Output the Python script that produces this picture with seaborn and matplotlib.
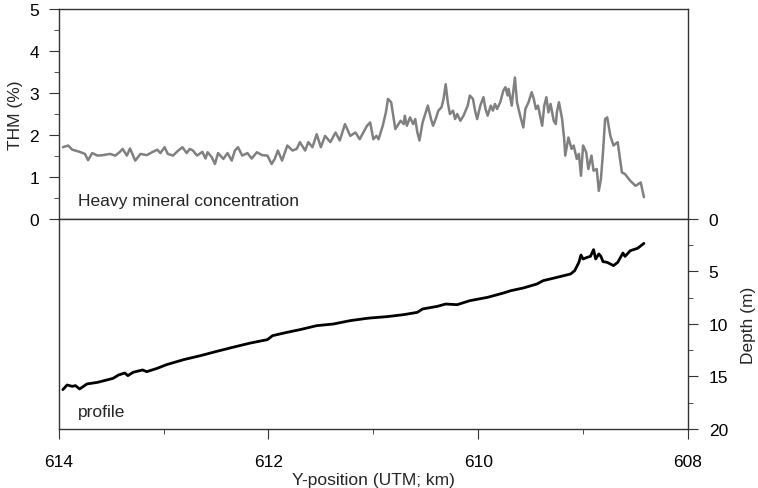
import numpy as np
import pandas as pd
import seaborn as sns
import matplotlib
matplotlib.use("Agg")
import matplotlib.pyplot as plt
from matplotlib.ticker import MultipleLocator

# heavy mineral concentration along the track
thm_y = [613.96, 613.91, 613.87, 613.80, 613.75, 613.72, 613.68, 613.63, 613.58, 613.51,
         613.46, 613.42, 613.39, 613.35, 613.32, 613.27, 613.22, 613.16, 613.11, 613.06,
         613.03, 612.99, 612.96, 612.91, 612.86, 612.82, 612.78, 612.75, 612.72, 612.68,
         612.63, 612.60, 612.58, 612.54, 612.51, 612.48, 612.43, 612.39, 612.35, 612.32,
         612.29, 612.25, 612.20, 612.16, 612.11, 612.06, 612.01, 611.97, 611.94, 611.91,
         611.87, 611.82, 611.77, 611.73, 611.70, 611.65, 611.62, 611.58, 611.54, 611.50,
         611.46, 611.41, 611.36, 611.32, 611.27, 611.22, 611.17, 611.13, 611.06,
         611.03, 611.00, 610.97, 610.95, 610.92, 610.91, 610.88, 610.86, 610.83, 610.81,
         610.79, 610.77, 610.74, 610.71, 610.70, 610.68, 610.65, 610.62, 610.60, 610.58,
         610.56, 610.53, 610.51, 610.49, 610.48, 610.45, 610.43, 610.40, 610.38, 610.35,
         610.33, 610.31, 610.29, 610.27, 610.24, 610.22, 610.20, 610.17, 610.14, 610.12,
         610.10, 610.08, 610.05, 610.03, 610.01, 609.98, 609.95, 609.93, 609.91, 609.88,
         609.86, 609.84, 609.82,
         609.79, 609.76, 609.74, 609.72, 609.71, 609.68, 609.67, 609.65, 609.63, 609.60,
         609.57, 609.55, 609.52, 609.49, 609.47, 609.45, 609.43, 609.41, 609.39, 609.37,
         609.35, 609.33, 609.31, 609.28, 609.26, 609.25, 609.23, 609.20, 609.18, 609.17,
         609.14, 609.11, 609.09, 609.06, 609.04, 609.02, 609.00, 608.97, 608.95, 608.92,
         608.90, 608.87, 608.85, 608.83, 608.81, 608.79, 608.77, 608.74,
         608.71, 608.67, 608.63, 608.60, 608.55, 608.50, 608.45, 608.42]
thm = [1.71, 1.75, 1.65, 1.60, 1.55, 1.40, 1.57, 1.51, 1.52, 1.55,
       1.51, 1.59, 1.67, 1.51, 1.68, 1.39, 1.55, 1.52, 1.59, 1.65,
       1.57, 1.71, 1.55, 1.51, 1.63, 1.71, 1.57, 1.67, 1.63, 1.51,
       1.60, 1.44, 1.59, 1.47, 1.31, 1.57, 1.43, 1.57, 1.39, 1.63,
       1.71, 1.51, 1.57, 1.44, 1.59, 1.52, 1.51, 1.31, 1.43, 1.63,
       1.39, 1.75, 1.63, 1.67, 1.83, 1.63, 1.83, 1.71, 2.02, 1.71,
       1.98, 1.83, 2.06, 1.87, 2.26, 1.98, 2.06, 1.90, 2.22,
       2.30, 1.90, 1.98, 1.90, 2.14, 2.22, 2.54, 2.86, 2.78, 2.46,
       2.14, 2.22, 2.34, 2.26, 2.46, 2.22, 2.42, 2.26, 2.38, 2.06,
       1.87, 2.30, 2.46, 2.62, 2.70, 2.38, 2.22, 2.42, 2.58, 2.66,
       2.86, 3.21, 2.78, 2.50, 2.58, 2.38, 2.50, 2.34, 2.46, 2.58,
       2.70, 2.94, 2.86, 2.58, 2.38, 2.70, 2.90, 2.62, 2.46, 2.70,
       2.58, 2.74, 2.62,
       2.78, 3.06, 3.14, 2.94, 3.10, 2.70, 2.94, 3.37, 2.78, 2.46,
       2.18, 2.62, 2.78, 3.02, 2.86, 2.62, 2.70, 2.46, 2.22, 2.70,
       2.90, 2.54, 2.74, 2.34, 2.26, 2.54, 2.78, 2.38, 1.90, 1.51,
       1.94, 1.67, 1.75, 1.43, 1.55, 1.03, 1.75, 1.59, 1.19, 1.51,
       1.15, 1.19, 0.67, 0.95, 1.59, 2.38, 2.42, 1.98,
       1.75, 1.83, 1.11, 1.07, 0.91, 0.79, 0.87, 0.52]

# depth profile
depth_y = [613.96, 613.92, 613.87, 613.84, 613.80, 613.73, 613.63, 613.54, 613.48, 613.43,
           613.37, 613.34, 613.29, 613.20, 613.16, 613.06, 612.97, 612.81, 612.65, 612.49,
           612.34, 612.17, 612.01, 611.96, 611.82, 611.70, 611.54, 611.38, 611.22, 611.06,
           611.03, 610.87, 610.71, 610.58, 610.53, 610.39, 610.31, 610.20, 610.08, 609.91,
           609.76, 609.69, 609.57, 609.44, 609.38, 609.25, 609.12, 609.08, 609.04, 609.02,
           609.00, 608.96, 608.93, 608.90, 608.88, 608.85, 608.83, 608.81, 608.77, 608.71,
           608.67, 608.62, 608.60, 608.55, 608.48, 608.42]
depth = [16.25, 15.81, 15.94, 15.87, 16.19, 15.71, 15.56, 15.33, 15.17, 14.86,
         14.67, 14.92, 14.60, 14.38, 14.54, 14.22, 13.87, 13.40, 13.02, 12.60,
         12.22, 11.81, 11.49, 11.11, 10.79, 10.54, 10.16, 10.00, 9.68, 9.46,
         9.43, 9.30, 9.11, 8.89, 8.57, 8.32, 8.10, 8.16, 7.78, 7.46,
         7.05, 6.83, 6.57, 6.19, 5.87, 5.56, 5.24, 4.92, 4.13, 3.43,
         3.81, 3.65, 3.56, 2.92, 3.81, 3.33, 3.56, 4.06, 4.13, 4.44,
         4.13, 3.24, 3.56, 3.02, 2.79, 2.32]

sns.set_style("ticks")
plt.rcParams['font.family'] = ['Liberation Sans', 'DejaVu Sans']
fs = 12.5
plt.rcParams['font.size'] = fs

top = pd.DataFrame({"ypos": thm_y, "thm": thm})
bot = pd.DataFrame({"ypos": depth_y, "depth": depth})

fig = plt.figure(figsize=(7.58, 4.89), dpi=100)
ax1 = fig.add_axes([0.0774, 0.5501, 0.8302, 0.4294])
ax2 = fig.add_axes([0.0774, 0.1207, 0.8302, 0.4294])

sns.lineplot(data=top, x="ypos", y="thm", ax=ax1, color="#808080", lw=1.8,
             estimator=None, sort=False)
sns.lineplot(data=bot, x="ypos", y="depth", ax=ax2, color="black", lw=2.0,
             estimator=None, sort=False)

spine_col = "#333333"
for ax in (ax1, ax2):
    ax.set_xlim(614, 608)
    for s in ax.spines.values():
        s.set_visible(True)
        s.set_color(spine_col)
        s.set_linewidth(1.0)
    ax.tick_params(which="both", colors=spine_col, labelcolor="black", direction="out")
    ax.tick_params(which="major", length=7)
    ax.tick_params(which="minor", length=3.6)

# top panel: THM
ax1.set_ylim(0, 5)
ax1.yaxis.set_major_locator(MultipleLocator(1))
ax1.yaxis.set_minor_locator(MultipleLocator(0.5))
ax1.tick_params(axis="x", which="both", bottom=False, labelbottom=False)
ax1.tick_params(axis="y", pad=7, labelsize=fs)
ax1.set_xlabel("")
ax1.set_ylabel("THM (%)", fontsize=fs, labelpad=5)
ax1.text(0.03, 0.09, "Heavy mineral concentration", transform=ax1.transAxes,
         fontsize=fs, va="center", ha="left")

# bottom panel: depth profile
ax2.set_ylim(20, 0)
ax2.yaxis.set_major_locator(MultipleLocator(5))
ax2.yaxis.set_minor_locator(MultipleLocator(2.5))
ax2.yaxis.tick_right()
ax2.yaxis.set_label_position("right")
ax2.tick_params(axis="y", which="both", left=False, right=True, pad=8, labelsize=fs)
ax2.xaxis.set_major_locator(MultipleLocator(2))
ax2.xaxis.set_minor_locator(MultipleLocator(1))
ax2.tick_params(axis="x", pad=11, labelsize=fs)
ax2.set_ylabel("Depth (m)", fontsize=fs, labelpad=9)
ax2.set_xlabel("Y-position (UTM; km)", fontsize=fs, labelpad=2)
ax2.text(0.03, 0.085, "profile", transform=ax2.transAxes,
         fontsize=fs, va="center", ha="left")

fig.savefig("out.png", dpi=100)
